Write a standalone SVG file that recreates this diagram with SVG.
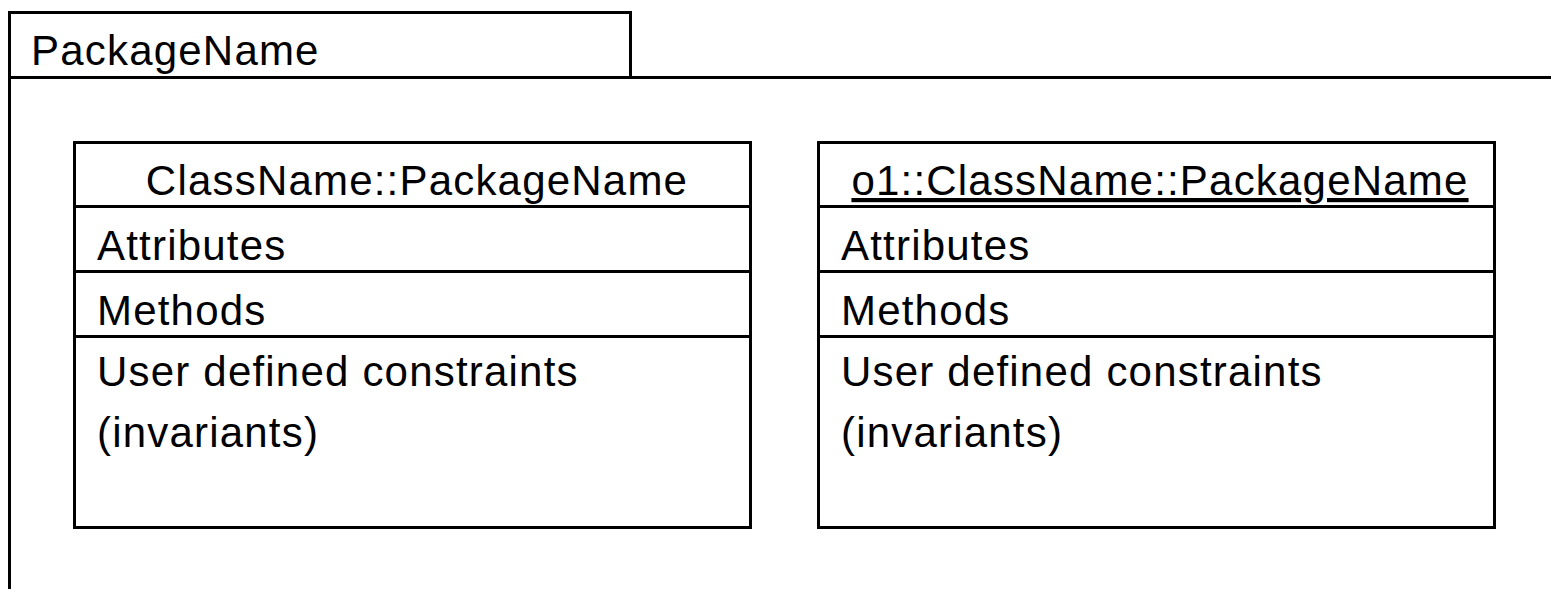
<svg xmlns="http://www.w3.org/2000/svg" width="1551" height="589" viewBox="0 0 1551 589">
  <style>
    .frame { fill: none; stroke: #000; stroke-width: 3; }
    .label { font-family: "Liberation Sans", Arial, sans-serif; font-size: 42px; letter-spacing: 1.2px; fill: #000; }
    .title { text-anchor: middle; }
  </style>
  <rect width="1551" height="589" fill="#fff"/>

  <!-- package frame: name tab plus body outline -->
  <g id="package">
    <path class="frame" d="M9.5 589 V12.5 H630.5 V77.5"/>
    <path class="frame" d="M9.5 77.5 H1551"/>
    <text class="label" x="31" y="65">PackageName</text>
  </g>

  <!-- class box -->
  <g id="class">
    <rect class="frame" x="74.5" y="142.5" width="676" height="385"/>
    <path class="frame" d="M74.5 206.5 H750.5 M74.5 271.5 H750.5 M74.5 336.5 H750.5"/>
    <text class="label title" x="417" y="195">ClassName::PackageName</text>
    <text class="label" x="97" y="260">Attributes</text>
    <text class="label" x="97" y="325">Methods</text>
    <text class="label" x="97" y="386">User defined constraints</text>
    <text class="label" x="97" y="447">(invariants)</text>
  </g>

  <!-- object (instance) box -->
  <g id="object">
    <rect class="frame" x="818.5" y="142.5" width="676" height="385"/>
    <path class="frame" d="M818.5 206.5 H1494.5 M818.5 271.5 H1494.5 M818.5 336.5 H1494.5"/>
    <text class="label title" x="1160" y="195" text-decoration="underline">o1::ClassName::PackageName</text>
    <text class="label" x="841" y="260">Attributes</text>
    <text class="label" x="841" y="325">Methods</text>
    <text class="label" x="841" y="386">User defined constraints</text>
    <text class="label" x="841" y="447">(invariants)</text>
  </g>

  <g id="connectors"/>
</svg>
